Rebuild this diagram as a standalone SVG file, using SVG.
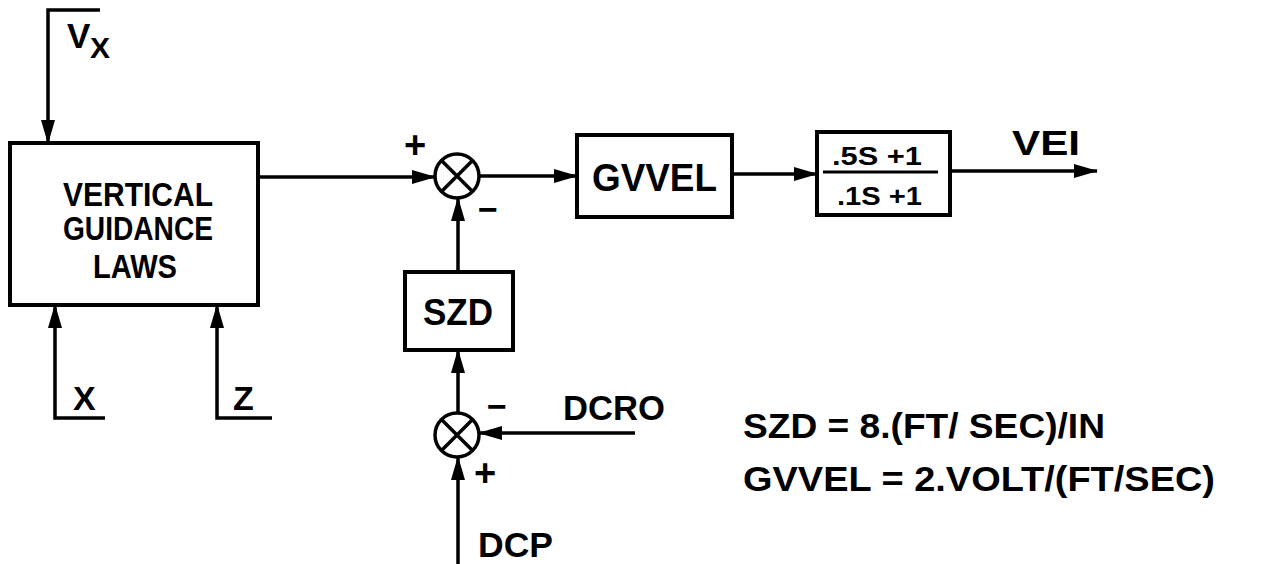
<svg xmlns="http://www.w3.org/2000/svg" width="1285" height="564" viewBox="0 0 1285 564">
<style>
.box{fill:none;stroke:#000;stroke-width:4}
.ln{fill:none;stroke:#000;stroke-width:3.5}
.t{font-family:"Liberation Sans",Arial,sans-serif;font-weight:bold;fill:#000}
</style>
<defs>
<marker id="ah" markerUnits="userSpaceOnUse" markerWidth="24" markerHeight="14" refX="23" refY="7" orient="auto">
<path d="M0,0 L24,7 L0,14 z" fill="#000"/>
</marker>
</defs>
<rect width="1285" height="564" fill="#fff"/>
<g id="guidance">
<rect class="box" x="10" y="143" width="248" height="162"/>
<text class="t" x="63" y="206" font-size="33" textLength="150" lengthAdjust="spacingAndGlyphs">VERTICAL</text>
<text class="t" x="63" y="240" font-size="33" textLength="150" lengthAdjust="spacingAndGlyphs">GUIDANCE</text>
<text class="t" x="93" y="278" font-size="33" textLength="84" lengthAdjust="spacingAndGlyphs">LAWS</text>
</g>
<g id="sum1">
<circle class="ln" cx="457" cy="176" r="22"/>
<path class="ln" d="M441.5,160.5 L472.5,191.5 M472.5,160.5 L441.5,191.5"/>
<text class="t" x="415" y="158" font-size="38" text-anchor="middle">+</text>
<text class="t" x="488" y="221" font-size="34" text-anchor="middle">−</text>
</g>
<g id="gvvel">
<rect class="box" x="577" y="135" width="155" height="82"/>
<text class="t" x="592" y="191" font-size="38" textLength="125" lengthAdjust="spacingAndGlyphs">GVVEL</text>
</g>
<g id="tf">
<rect class="box" x="817" y="132" width="133" height="83"/>
<line x1="823" y1="172" x2="938" y2="172" stroke="#000" stroke-width="3"/>
<text class="t" x="832" y="165" font-size="25" textLength="90" lengthAdjust="spacingAndGlyphs">.5S +1</text>
<text class="t" x="837" y="205" font-size="25" textLength="85" lengthAdjust="spacingAndGlyphs">.1S +1</text>
</g>
<g id="szd">
<rect class="box" x="405" y="272" width="108" height="78"/>
<text class="t" x="423" y="325" font-size="36" textLength="70" lengthAdjust="spacingAndGlyphs">SZD</text>
</g>
<g id="sum2">
<circle class="ln" cx="457" cy="435" r="22"/>
<path class="ln" d="M441.5,419.5 L472.5,450.5 M472.5,419.5 L441.5,450.5"/>
<text class="t" x="497" y="418" font-size="34" text-anchor="middle">−</text>
<text class="t" x="485" y="486" font-size="38" text-anchor="middle">+</text>
</g>
<g id="labels">
<text class="t" x="67" y="48" font-size="35">V</text>
<text class="t" x="90" y="58" font-size="30">X</text>
<text class="t" x="73" y="410" font-size="34">X</text>
<text class="t" x="233" y="410" font-size="34">Z</text>
<text class="t" x="1012" y="155" font-size="35" textLength="68" lengthAdjust="spacingAndGlyphs">VEI</text>
<text class="t" x="563" y="420" font-size="35" textLength="102" lengthAdjust="spacingAndGlyphs">DCRO</text>
<text class="t" x="478" y="557" font-size="35" textLength="75" lengthAdjust="spacingAndGlyphs">DCP</text>
<text class="t" x="743" y="438" font-size="35" textLength="362" lengthAdjust="spacingAndGlyphs">SZD = 8.(FT/ SEC)/IN</text>
<text class="t" x="743" y="491" font-size="35" textLength="472" lengthAdjust="spacingAndGlyphs">GVVEL = 2.VOLT/(FT/SEC)</text>
</g>
<g id="connectors">
<path class="ln" d="M100,10 H48 V143" marker-end="url(#ah)"/>
<path class="ln" d="M105,418 H55 V305" marker-end="url(#ah)"/>
<path class="ln" d="M272,418 H217 V305" marker-end="url(#ah)"/>
<path class="ln" d="M258,177 H435" marker-end="url(#ah)"/>
<path class="ln" d="M479,176 H577" marker-end="url(#ah)"/>
<path class="ln" d="M732,174 H817" marker-end="url(#ah)"/>
<path class="ln" d="M950,171 H1097" marker-end="url(#ah)"/>
<path class="ln" d="M458,272 V198" marker-end="url(#ah)"/>
<path class="ln" d="M458,413 V350" marker-end="url(#ah)"/>
<path class="ln" d="M635,433 H479" marker-end="url(#ah)"/>
<path class="ln" d="M458,564 V457" marker-end="url(#ah)"/>
</g>
</svg>
